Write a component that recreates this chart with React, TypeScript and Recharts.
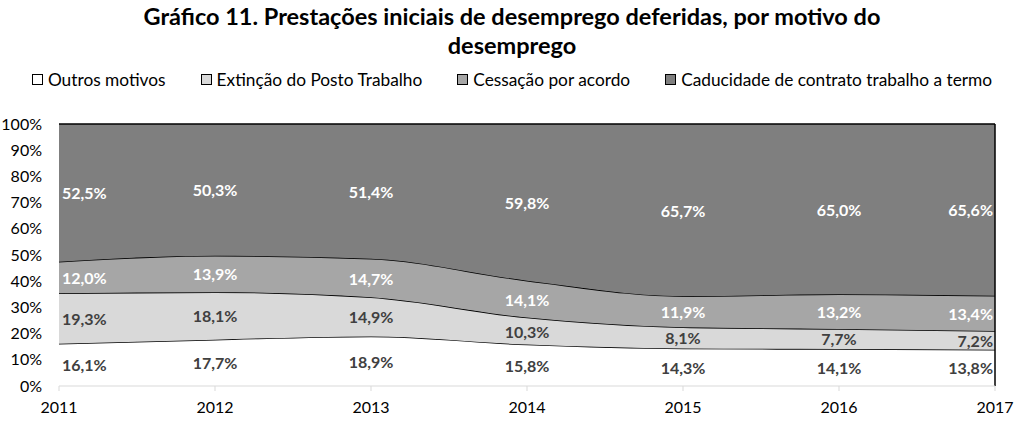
import React from 'react';
import { AreaChart, Area, XAxis, YAxis, LabelList, ReferenceLine } from 'recharts';

const years = ['2011', '2012', '2013', '2014', '2015', '2016', '2017'];
const outros = [16.1, 17.7, 18.9, 15.8, 14.3, 14.1, 13.8];
const extincao = [19.3, 18.1, 14.9, 10.3, 8.1, 7.7, 7.2];
const cessacao = [12.0, 13.9, 14.7, 14.1, 11.9, 13.2, 13.4];
const caducidade = [52.5, 50.3, 51.4, 59.8, 65.7, 65.0, 65.6];
const yTicks = [0, 0.1, 0.2, 0.3, 0.4, 0.5, 0.6, 0.7, 0.8, 0.9, 1];

const series = [
  { key: 'outros', name: 'Outros motivos', color: '#ffffff', text: '#404040' },
  { key: 'extincao', name: 'Extinção do Posto Trabalho', color: '#d9d9d9', text: '#404040' },
  { key: 'cessacao', name: 'Cessação por acordo', color: '#a6a6a6', text: '#ffffff' },
  { key: 'caducidade', name: 'Caducidade de contrato trabalho a termo', color: '#7f7f7f', text: '#ffffff' },
];

const data = years.map((year, i) => ({
  year,
  outros: outros[i],
  extincao: extincao[i],
  cessacao: cessacao[i],
  caducidade: caducidade[i],
}));

const totals = years.map((_, i) => outros[i] + extincao[i] + cessacao[i] + caducidade[i]);

const FONT = 'Lato, "Noto Sans", sans-serif';
const W = 1024;
const H = 425;
const margin = { top: 124, right: 29, bottom: 9, left: 0 };
const X_AXIS_H = 30;
const PLOT_H = H - margin.top - margin.bottom - X_AXIS_H;

const fmt = (v: number) => v.toFixed(1).replace('.', ',') + '%';

// label in the middle of each band; first/last column pushed inside the plot
const makeLabel = (color: string) => (props: any) => {
  const vb = props.viewBox || {};
  const x = props.x ?? vb.x;
  const y = props.y ?? vb.y;
  const index = props.index ?? 0;
  const value = Number(props.value);
  const h = (value / totals[index]) * PLOT_H;
  let anchor: 'start' | 'middle' | 'end' = 'middle';
  let tx = x;
  if (index === 0) { anchor = 'start'; tx = x + 3; }
  if (index === years.length - 1) { anchor = 'end'; tx = x - 2; }
  return (
    <text x={tx} y={y + h / 2} textAnchor={anchor} dominantBaseline="central"
      fill={color} fontSize={16} fontWeight="bold" fontFamily={FONT}>
      {fmt(value)}
    </text>
  );
};

const Legend = () => (
  <div style={{ position: 'absolute', top: 69, left: 0, width: W, display: 'flex', justifyContent: 'center', gap: 35, fontFamily: FONT, fontSize: 17.3, color: '#000' }}>
    {series.map(s => (
      <div key={s.key} style={{ display: 'flex', alignItems: 'center', gap: 5 }}>
        <div style={{ width: 9, height: 9, border: '1px solid #000', background: s.color }} />
        <span>{s.name}</span>
      </div>
    ))}
  </div>
);

export default function App() {
  return (
    <div style={{ position: 'relative', width: W, height: H, background: '#fff', overflow: 'hidden' }}>
      <style>{'body{margin:0}'}</style>
      <div style={{ position: 'absolute', top: 2, left: 0, width: W, textAlign: 'center', fontFamily: FONT, fontWeight: 'bold', fontSize: 23.5, lineHeight: '29px', color: '#000' }}>
        Gráfico 11. Prestações iniciais de desemprego deferidas, por motivo do<br />desemprego
      </div>
      <Legend />
      <AreaChart width={W} height={H} data={data} margin={margin} stackOffset="expand">
        <XAxis dataKey="year" height={X_AXIS_H} axisLine={{ stroke: '#d9d9d9' }} tickLine={{ stroke: '#d9d9d9' }}
          tickSize={5} tickMargin={11} interval={0}
          tick={{ fill: '#000', fontSize: 16, fontFamily: FONT }} />
        <YAxis width={59} domain={[0, 1]} ticks={yTicks} axisLine={false} tickLine={false} tickSize={0} tickMargin={17}
          tickFormatter={(v: number) => `${Math.round(v * 100)}%`} interval={0}
          tick={{ fill: '#000', fontSize: 16, fontFamily: FONT }} />
        {series.map(s => (
          <Area key={s.key} dataKey={s.key} name={s.name} stackId="1" type="monotone"
            fill={s.color} fillOpacity={1} stroke="#000" strokeWidth={1.5} isAnimationActive={false}>
            <LabelList dataKey={s.key} content={makeLabel(s.text)} />
          </Area>
        ))}
        <ReferenceLine x="2017" stroke="#000" strokeWidth={1.5} />
      </AreaChart>
    </div>
  );
}
